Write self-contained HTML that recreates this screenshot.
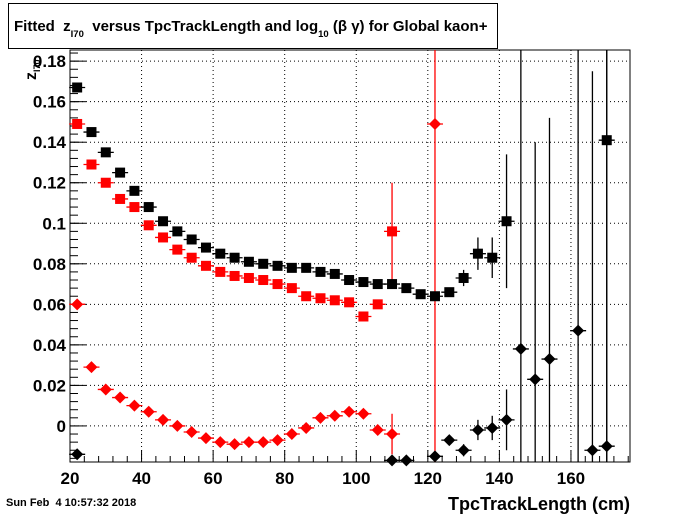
<!DOCTYPE html>
<html><head><meta charset="utf-8"><style>
body{margin:0;background:#fff;width:700px;height:514px;overflow:hidden;font-family:"Liberation Sans",sans-serif}
</style></head><body>
<svg id="c" width="700" height="514" xmlns="http://www.w3.org/2000/svg" font-family="Liberation Sans, sans-serif">
<rect x="8.5" y="3.5" width="489" height="45" fill="#fff" stroke="#000"/>
<text x="14" y="31" font-size="15" font-weight="bold">Fitted&#160;&#160;z<tspan font-size="9.5" dy="6">I70</tspan><tspan dy="-6">&#160;&#160;versus TpcTrackLength and log</tspan><tspan font-size="9.5" dy="6">10</tspan><tspan dy="-6">&#160;(β γ) for Global kaon+</tspan></text>
<g id="grid"></g><g id="axes"></g><g id="marks"></g>
<text x="6" y="506" font-size="11" font-weight="bold">Sun Feb&#160;&#160;4 10:57:32 2018</text>
<text x="630" y="510" font-size="18" font-weight="bold" text-anchor="end">TpcTrackLength (cm)</text>
<text transform="translate(36,80) rotate(-90)" font-size="16" font-weight="bold">z<tspan font-size="9" dy="4">I70</tspan></text>
</svg>
<script>
const xTicks=[20,40,60,80,100,120,140,160];
const yTicks=[0,0.02,0.04,0.06,0.08,0.1,0.12,0.14,0.16,0.18];
const yTickLabels=["0","0.02","0.04","0.06","0.08","0.1","0.12","0.14","0.16","0.18"];
const blackSqX=[22,26,30,34,38,42,46,50,54,58,62,66,70,74,78,82,86,90,94,98,102,106,110,114,118,122,126,130,134,138,142,170];
const blackSqY=[0.167,0.145,0.135,0.125,0.116,0.108,0.101,0.096,0.092,0.088,0.085,0.083,0.081,0.080,0.079,0.078,0.078,0.076,0.075,0.072,0.071,0.070,0.070,0.068,0.065,0.064,0.066,0.073,0.085,0.083,0.101,0.141];
const blackSqErr=[0,0,0,0,0,0,0,0,0,0,0,0,0,0,0,0,0,0,0,0,0,0,0,0,0,0,0.002,0.004,0.008,0.010,0.033,0.2];
const redSqX=[22,26,30,34,38,42,46,50,54,58,62,66,70,74,78,82,86,90,94,98,102,106,110];
const redSqY=[0.149,0.129,0.120,0.112,0.108,0.099,0.093,0.087,0.083,0.079,0.076,0.074,0.073,0.072,0.070,0.068,0.064,0.063,0.062,0.061,0.054,0.060,0.096];
const redSqErr=[0,0,0,0,0,0,0,0,0,0,0,0,0,0,0,0,0,0,0,0,0,0.002,0.024];
const redDiX=[22,26,30,34,38,42,46,50,54,58,62,66,70,74,78,82,86,90,94,98,102,106,110,122];
const redDiY=[0.060,0.029,0.018,0.014,0.010,0.007,0.003,0.000,-0.003,-0.006,-0.008,-0.009,-0.008,-0.008,-0.007,-0.004,-0.001,0.004,0.005,0.007,0.006,-0.002,-0.004,0.149];
const redDiErr=[0,0,0,0,0,0,0,0,0,0,0,0,0,0,0,0,0,0,0,0,0,0.002,0.010,0.3];
const blackDiX=[22,110,114,122,126,130,134,138,142,146,150,154,162,166,170];
const blackDiY=[-0.014,-0.017,-0.017,-0.015,-0.007,-0.012,-0.002,-0.001,0.003,0.038,0.023,0.033,0.047,-0.012,-0.010];
const blackDiErr=[0,0,0,0.002,0.002,0.003,0.005,0.006,0.015,0.2,0.117,0.119,0.3,0.187,0.3];
const L=70,R=630,T=50,B=462,x0=20,x1=176.5,y0=-0.0178,y1=0.1855;
const X=v=>L+(v-x0)/(x1-x0)*(R-L), Y=v=>B-(v-y0)/(y1-y0)*(B-T);
const NS="http://www.w3.org/2000/svg";
function mk(p,tag,at){const e=document.createElementNS(NS,tag);for(const k in at)e.setAttribute(k,at[k]);document.getElementById(p).appendChild(e);return e;}
xTicks.forEach(t=>{const e=mk('grid','line',{x1:X(t),x2:X(t),y1:T,y2:B,stroke:'#000','stroke-dasharray':'1,3','stroke-width':1});


const tx=mk('axes','text',{x:X(t),y:B+22,'font-size':17,'font-weight':'bold','text-anchor':'middle'});tx.textContent=t;


mk('axes','line',{x1:X(t),x2:X(t),y1:B,y2:B-12,stroke:'#000'});});
for(let t=20;t<=176;t+=4){if(t%20)mk('axes','line',{x1:X(t),x2:X(t),y1:B,y2:B-6,stroke:'#000'});}
yTicks.forEach((t,i)=>{const e=mk('grid','line',{x1:L,x2:R,y1:Y(t),y2:Y(t),stroke:'#000','stroke-dasharray':'1,3'});


const tx=mk('axes','text',{x:L-4,y:Y(t)+6,'font-size':17,'font-weight':'bold','text-anchor':'end'});tx.textContent=yTickLabels[i];


mk('axes','line',{x1:L,x2:L+16,y1:Y(t),y2:Y(t),stroke:'#000'});});
for(let t=-0.016;t<=0.185;t+=0.004){mk('axes','line',{x1:L,x2:L+8,y1:Y(t),y2:Y(t),stroke:'#000'});}
const fr=mk('axes','rect',{x:L,y:T,width:R-L,height:B-T,fill:'none',stroke:'#000','stroke-width':1});


function clampY(v){return Math.max(T,Math.min(B,Y(v)));}
function series(xs,ys,es,col,shape,name){xs.forEach((xv,i)=>{const cx=X(xv),cy=Y(ys[i]);
mk('marks','line',{x1:cx-8,x2:cx+8,y1:cy,y2:cy,stroke:col,'stroke-width':1.3});
if(es[i]>0)mk('marks','line',{x1:cx,x2:cx,y1:clampY(ys[i]+es[i]),y2:clampY(ys[i]-es[i]),stroke:col,'stroke-width':1.3});
let m;if(shape==='sq')m=mk('marks','rect',{x:cx-5,y:cy-5,width:10,height:10,fill:col});
else m=mk('marks','polygon',{points:`${cx},${cy-6} ${cx+6},${cy} ${cx},${cy+6} ${cx-6},${cy}`,fill:col});

});}
series(redSqX,redSqY,redSqErr,'#f00','sq','red-square-point');
series(redDiX,redDiY,redDiErr,'#f00','di','red-diamond-point');
series(blackSqX,blackSqY,blackSqErr,'#000','sq','black-square-point');
series(blackDiX,blackDiY,blackDiErr,'#000','di','black-diamond-point');
</script>
</body></html>
